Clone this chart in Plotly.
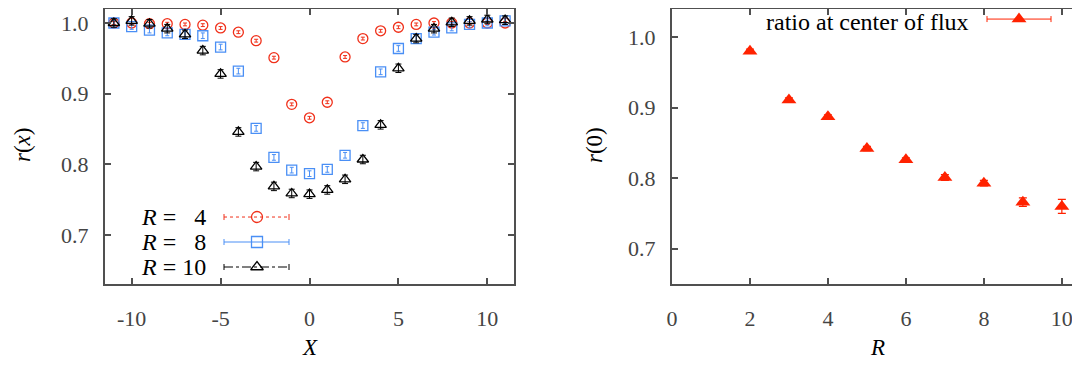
import plotly.graph_objects as go

# ratio r(x) across the flux tube for three source separations R
X = list(range(-11, 12))
r4 = [1.000, 1.000, 0.999, 0.999, 0.998, 0.997, 0.993, 0.987, 0.975, 0.951, 0.885, 0.866,
      0.888, 0.952, 0.978, 0.989, 0.994, 0.998, 1.000, 1.000, 1.000, 1.000, 1.000]
r4_err = [0.002] * 23
r8 = [1.000, 0.995, 0.990, 0.986, 0.984, 0.982, 0.966, 0.932, 0.851, 0.810, 0.792, 0.787,
      0.793, 0.813, 0.855, 0.931, 0.964, 0.978, 0.987, 0.993, 0.998, 1.000, 1.003]
r8_err = [0.004] * 23
r10 = [1.000, 1.003, 0.999, 0.992, 0.984, 0.961, 0.928, 0.846, 0.797, 0.769, 0.759, 0.758,
       0.764, 0.779, 0.807, 0.856, 0.936, 0.978, 0.992, 1.001, 1.003, 1.005, 1.004]
r10_err = [0.006] * 23

# ratio at the center of the flux tube vs R
R = [2, 3, 4, 5, 6, 7, 8, 9, 10]
r0 = [0.980, 0.911, 0.887, 0.842, 0.826, 0.801, 0.793, 0.766, 0.760]
r0_err = [0.003, 0.003, 0.003, 0.003, 0.003, 0.004, 0.004, 0.006, 0.010]

x_ticks = [-10, -5, 0, 5, 10]
x_ticktext = ["-10", "-5", "0", "5", "10"]
R_ticks = [0, 2, 4, 6, 8, 10]
y_ticks = [0.7, 0.8, 0.9, 1.0]

RED = "#f0301a"
BLUE = "#4a8ff5"
BLACK = "#000000"
FILL = "#ff2200"
SERIF = "Liberation Serif"

# the page body has an 8px margin, so the figure is drawn 8px smaller
OFF = 8
W, H = 1080 - OFF, 367 - OFF


def px(x):
    return (x - OFF) / W


def py(y):
    return 1 - (y - OFF) / H


fig = go.Figure()

fig.add_trace(go.Scatter(x=X, y=r4, mode="markers", xaxis="x", yaxis="y",
                         marker=dict(symbol="circle-open", size=10, color=RED, line=dict(width=1.3)),
                         error_y=dict(type="data", array=r4_err, color=RED, thickness=1, width=2)))
fig.add_trace(go.Scatter(x=X, y=r8, mode="markers", xaxis="x", yaxis="y",
                         marker=dict(symbol="square-open", size=10, color=BLUE, line=dict(width=1.3)),
                         error_y=dict(type="data", array=r8_err, color=BLUE, thickness=1, width=2)))
fig.add_trace(go.Scatter(x=X, y=r10, mode="markers", xaxis="x", yaxis="y",
                         marker=dict(symbol="triangle-up-open", size=10, color=BLACK, line=dict(width=1.3)),
                         error_y=dict(type="data", array=r10_err, color=BLACK, thickness=1, width=3)))

fig.add_trace(go.Scatter(x=R, y=r0, mode="markers", xaxis="x2", yaxis="y2",
                         marker=dict(symbol="triangle-up", size=13, color=FILL, line=dict(width=0)),
                         error_y=dict(type="data", array=r0_err, color=FILL, thickness=1.2, width=4)))

# key samples, drawn on hidden pixel-unit axes laid over each panel
keys = [(217, RED, "dot", "circle-open", "<i>R</i> =\u00a0\u00a0\u00a04"),
        (242, BLUE, "solid", "square-open", "<i>R</i> =\u00a0\u00a0\u00a08"),
        (267, BLACK, "dashdot", "triangle-up-open", "<i>R</i> = 10")]
annotations = []
for yk, col, dash, sym, label in keys:
    fig.add_trace(go.Scatter(x=[224, 289], y=[yk, yk], mode="lines", xaxis="x3", yaxis="y3",
                             line=dict(color=col, width=1, dash=dash), hoverinfo="skip"))
    fig.add_trace(go.Scatter(x=[224, 224, None, 289, 289], y=[yk - 3, yk + 3, None, yk - 3, yk + 3],
                             mode="lines", xaxis="x3", yaxis="y3",
                             line=dict(color=col, width=1), hoverinfo="skip"))
    fig.add_trace(go.Scatter(x=[257], y=[yk], mode="markers", xaxis="x3", yaxis="y3",
                             marker=dict(symbol=sym, size=11, color=col, line=dict(width=1.3)),
                             hoverinfo="skip"))
    annotations.append(dict(x=px(208), y=py(yk), xref="paper", yref="paper", text=label,
                            showarrow=False, xanchor="right", yanchor="middle",
                            font=dict(family=SERIF, size=24, color="black")))

yk = 19
fig.add_trace(go.Scatter(x=[987, 1051], y=[yk, yk], mode="lines", xaxis="x4", yaxis="y4",
                         line=dict(color=FILL, width=1), hoverinfo="skip"))
fig.add_trace(go.Scatter(x=[987, 987, None, 1051, 1051], y=[yk - 3, yk + 3, None, yk - 3, yk + 3],
                         mode="lines", xaxis="x4", yaxis="y4", line=dict(color=FILL, width=1),
                         hoverinfo="skip"))
fig.add_trace(go.Scatter(x=[1019], y=[yk], mode="markers", xaxis="x4", yaxis="y4",
                         marker=dict(symbol="triangle-up", size=13, color=FILL), hoverinfo="skip"))
annotations.append(dict(x=px(971), y=py(22), xref="paper", yref="paper",
                        text="ratio at center of flux", showarrow=False, xanchor="right",
                        yanchor="middle", font=dict(family=SERIF, size=24, color="black")))

# axis titles
title_font = dict(family=SERIF, size=23, color="black")
annotations += [
    dict(x=px(22), y=py(145), text="<i>r</i>(<i>x</i>)", textangle=-90),
    dict(x=px(594), y=py(145), text="<i>r</i>(0)", textangle=-90),
    dict(x=px(310), y=py(347), text="<i>X</i>"),
    dict(x=px(877), y=py(347), text="<i>R</i>"),
]
for a in annotations[-4:]:
    a.update(xref="paper", yref="paper", showarrow=False, xanchor="center", yanchor="middle",
             font=title_font)

tick_font = dict(family=SERIF, size=22, color="#444444")
frame = dict(showline=True, linewidth=2, linecolor="#505050", mirror="allticks", ticks="inside",
             ticklen=6, tickwidth=1.5, tickcolor="#505050", showgrid=False, zeroline=False,
             tickfont=tick_font, automargin=False)

left_dom = [px(105), px(514)]
right_dom = [px(672), px(1079)]
y_dom = [py(284), 0.997]

fig.update_layout(
    width=W, height=H, margin=dict(l=0, r=0, t=0, b=0, autoexpand=False),
    font=dict(family=SERIF),
    paper_bgcolor="white", plot_bgcolor="white", showlegend=False,
    xaxis=dict(domain=left_dom, range=[-11.5, 11.5], tickvals=x_ticks, ticktext=x_ticktext,
               anchor="y", ticklabelstandoff=14, **frame),
    yaxis=dict(domain=y_dom, range=[0.631, 1.0197], tickvals=y_ticks,
               tickformat=".1f", anchor="x", ticklabelstandoff=10, **frame),
    xaxis2=dict(domain=right_dom, range=[0, 10.44], tickvals=R_ticks,
                anchor="y2", ticklabelstandoff=14, **frame),
    yaxis2=dict(domain=y_dom, range=[0.65, 1.0398], tickvals=y_ticks,
                tickformat=".1f", anchor="x2", ticklabelstandoff=10, **frame),
    xaxis3=dict(overlaying="x", range=[105, 514], visible=False),
    yaxis3=dict(overlaying="y", range=[284, 9], visible=False),
    xaxis4=dict(overlaying="x2", range=[672, 1079], visible=False),
    yaxis4=dict(overlaying="y2", range=[284, 9], visible=False),
    annotations=annotations,
)

fig.write_html("out.html")
